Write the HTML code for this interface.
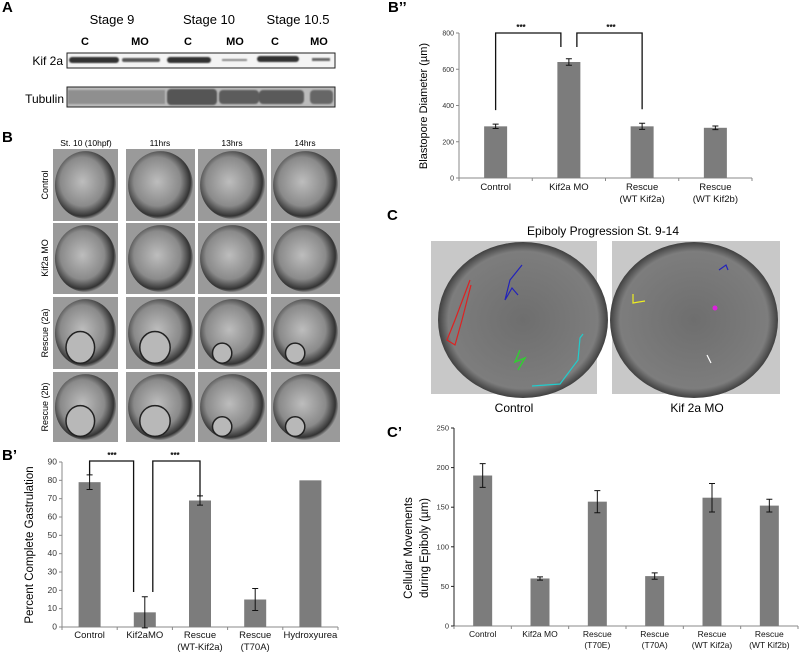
<!DOCTYPE html>
<html><head><meta charset="utf-8"><style>
body{margin:0;background:#fff;}
svg{display:block;font-family:"Liberation Sans",Arial,sans-serif;}
</style></head><body>
<svg id="fig" width="800" height="655" viewBox="0 0 800 655">
<defs>
<radialGradient id="emb" cx="45%" cy="45%" r="60%">
<stop offset="0" stop-color="#bdbdbd"/><stop offset="0.6" stop-color="#8a8a8a"/><stop offset="0.85" stop-color="#333"/><stop offset="1" stop-color="#dcdcdc"/></radialGradient>
<radialGradient id="emb2" cx="50%" cy="50%" r="55%">
<stop offset="0" stop-color="#6e6e6e"/><stop offset="0.8" stop-color="#7d7d7d"/><stop offset="0.92" stop-color="#3a3a3a"/><stop offset="1" stop-color="#cfcfcf"/></radialGradient>
<filter id="blur"><feGaussianBlur stdDeviation="0.8"/></filter>
</defs>

<g>
<text x="2" y="12" font-size="15" font-weight="bold">A</text>
<text x="112" y="24" font-size="13" text-anchor="middle">Stage 9</text>
<text x="209" y="24" font-size="13" text-anchor="middle">Stage 10</text>
<text x="298" y="24" font-size="13" text-anchor="middle">Stage 10.5</text>
<g font-size="11" font-weight="bold" text-anchor="middle">
<text x="85" y="45">C</text>
<text x="140" y="45">MO</text>
<text x="188" y="45">C</text>
<text x="235" y="45">MO</text>
<text x="275" y="45">C</text>
<text x="319" y="45">MO</text>
</g>
<text x="63" y="65" font-size="12" text-anchor="end">Kif 2a</text>
<rect x="67" y="53" width="268" height="15" fill="#f4f4f4" stroke="#222"/>
<g filter="url(#blur)">
<rect x="69" y="57" width="50" height="6" rx="3" fill="#333"/><rect x="122" y="58" width="38" height="4" rx="2" fill="#555"/>
<rect x="167" y="57" width="44" height="6" rx="3" fill="#333"/><rect x="222" y="59" width="25" height="2" fill="#888"/>
<rect x="257" y="56" width="42" height="6" rx="3" fill="#333"/><rect x="312" y="58" width="18" height="3" fill="#666"/>
</g>
<text x="64" y="103" font-size="12" text-anchor="end">Tubulin</text>
<rect x="67" y="87" width="268" height="20" fill="#bbb" stroke="#222"/>
<g filter="url(#blur)">
<rect x="68" y="90" width="97" height="14" fill="#8f8f8f"/><rect x="167" y="89" width="50" height="16" rx="4" fill="#555"/>
<rect x="219" y="90" width="40" height="14" rx="4" fill="#5c5c5c"/><rect x="259" y="90" width="45" height="14" rx="4" fill="#5a5a5a"/><rect x="310" y="90" width="23" height="14" rx="4" fill="#666"/>
</g>
</g>

<g>
<text x="2" y="142" font-size="15" font-weight="bold">B</text>
<g font-size="8.5" text-anchor="middle">
<text x="86" y="146">St. 10 (10hpf)</text>
<text x="160" y="146">11hrs</text>
<text x="232" y="146">13hrs</text>
<text x="305" y="146">14hrs</text>
</g>
<g font-size="9" text-anchor="middle">
<text transform="translate(48,185) rotate(-90)">Control</text>
<text transform="translate(48,258) rotate(-90)">Kif2a MO</text>
<text transform="translate(48,333) rotate(-90)">Rescue (2a)</text>
<text transform="translate(48,407) rotate(-90)">Rescue (2b)</text>
</g>
<g id="grid"></g>
</g>

<g id="bpp">
<text x="388" y="12" font-size="15" font-weight="bold">B’’</text>
<text transform="translate(427,106) rotate(-90)" font-size="11" text-anchor="middle">Blastopore Diameter (µm)</text>
</g>

<g>
<text x="387" y="220" font-size="15" font-weight="bold">C</text>
<text x="603" y="235" font-size="12" text-anchor="middle">Epiboly Progression St. 9-14</text>
<rect x="431" y="241" width="166" height="153" fill="#c8c8c8"/>
<ellipse cx="523" cy="320" rx="85" ry="78" fill="url(#emb2)"/>
<polyline points="470,280 455,320 447,340 455,345 462,320 471,285" fill="none" stroke="#d22" stroke-width="1.2"/>
<polyline points="522,265 510,280 505,300 512,288 518,295" fill="none" stroke="#22b" stroke-width="1.2"/>
<polyline points="520,350 515,362 525,358 518,370" fill="none" stroke="#3c3" stroke-width="1.5"/>
<polyline points="532,386 560,384 578,360 580,338 583,334" fill="none" stroke="#2cc" stroke-width="1.2"/>
<rect x="612" y="241" width="168" height="153" fill="#c8c8c8"/>
<ellipse cx="694" cy="320" rx="84" ry="78" fill="url(#emb2)"/>
<polyline points="633,294 633,303 645,301" fill="none" stroke="#ee2" stroke-width="1.2"/>
<polyline points="719,270 726,265 728,270" fill="none" stroke="#22b" stroke-width="1.2"/>
<circle cx="715" cy="308" r="2.5" fill="#d2d"/>
<polyline points="707,355 711,363" fill="none" stroke="#fff" stroke-width="1.2"/>
<text x="514" y="412" font-size="12" text-anchor="middle">Control</text>
<text x="697" y="412" font-size="12" text-anchor="middle">Kif 2a MO</text>
</g>

<g id="bp">
<text x="2" y="460" font-size="15" font-weight="bold">B’</text>
<text transform="translate(33,545) rotate(-90)" font-size="11.5" text-anchor="middle">Percent Complete Gastrulation</text>
</g>

<g id="cp">
<text x="387" y="437" font-size="15" font-weight="bold">C’</text>
<text x="412" y="548" font-size="11.5" text-anchor="middle" transform="rotate(-90 412 548)">Cellular Movements</text>
<text x="428" y="548" font-size="11.5" text-anchor="middle" transform="rotate(-90 428 548)">during Epiboly (µm)</text>
</g>
</svg>
<script>
const bppCategories = [["Control"],["Kif2a MO"],["Rescue","(WT Kif2a)"],["Rescue","(WT Kif2b)"]];
const bppValues = [285, 640, 285, 277];
const bppErrors = [12, 18, 17, 10];
const bppTicks = [0, 200, 400, 600, 800];
const bpCategories = [["Control"],["Kif2aMO"],["Rescue","(WT-Kif2a)"],["Rescue","(T70A)"],["Hydroxyurea"]];
const bpValues = [79, 8, 69, 15, 80];
const bpErrors = [4, 8.5, 2.5, 6, 0];
const bpTicks = [0,10,20,30,40,50,60,70,80,90];
const cpCategories = [["Control"],["Kif2a MO"],["Rescue","(T70E)"],["Rescue","(T70A)"],["Rescue","(WT Kif2a)"],["Rescue","(WT Kif2b)"]];
const cpValues = [190, 60, 157, 63, 162, 152];
const cpErrors = [15, 2, 14, 4, 18, 8];
const cpTicks = [0, 50, 100, 150, 200, 250];

const NS = "http://www.w3.org/2000/svg";
function mk(parent, tag, attrs){const e=document.createElementNS(NS,tag);for(const k in attrs)e.setAttribute(k,attrs[k]);parent.appendChild(e);return e;}

function chart(g, o){
  const y = v => o.y0 - v / o.vmax * (o.y0 - o.yTop);
  const n = o.cats.length, cw = (o.x1 - o.x0) / n;
  const x = i => o.x0 + cw * (i + 0.5);
  const ax = mk(g,'line',{x1:o.x0,y1:o.y0,x2:o.x1,y2:o.y0,stroke:'#888','stroke-width':1});
  
  
  const ay = mk(g,'line',{x1:o.x0,y1:y(o.ticks[o.ticks.length-1]),x2:o.x0,y2:o.y0,stroke:o.axCol||'#888','stroke-width':1});
  
  
  o.ticks.forEach(t=>{
    mk(g,'line',{x1:o.x0-3,y1:y(t),x2:o.x0,y2:y(t),stroke:o.axCol||'#888'});
    const tx = mk(g,'text',{x:o.x0-5,y:y(t)+2.5,'font-size':o.tfs||7,'text-anchor':'end',fill:'#333'});
    tx.textContent=t;
    
    
  });
  for(let i=0;i<=n;i++) mk(g,'line',{x1:o.x0+cw*i,y1:o.y0,x2:o.x0+cw*i,y2:o.y0+3,stroke:'#888'});
  o.cats.forEach((c,i)=>{
    const v=o.vals[i], e=o.errs[i];
    const b = mk(g,'rect',{x:x(i)-o.bw/2,y:y(v),width:o.bw,height:o.y0-y(v),fill:'#7c7c7c'});
    
    
    if(e>0){
      const eb = mk(g,'path',{d:`M${x(i)-3},${y(v+e)}h6M${x(i)},${y(v+e)}V${y(v-e)}M${x(i)-3},${y(v-e)}h6`,stroke:'#111','stroke-width':1,fill:'none'});
      
      
    }
    c.forEach((line,j)=>{
      const t = mk(g,'text',{x:x(i),y:o.y0+o.lab+j*o.lh,'font-size':o.lfs,'text-anchor':'middle',fill:'#111'});
      t.textContent=line;
      
      
    });
  });
  return {x,y};
}
function bracket(g, xa, ya, xb, yb, top, sx){
  const p = mk(g,'path',{d:`M${xa},${ya}V${top}H${xb}V${yb}`,stroke:'#111','stroke-width':1.3,fill:'none'});
  
  
  const t = mk(g,'text',{x:sx,y:top-3,'font-size':8,'text-anchor':'middle','font-weight':'bold'});
  t.textContent='***';
  
  
}

const gbpp=document.getElementById('bpp');
const s1=chart(gbpp,{cats:bppCategories,vals:bppValues,errs:bppErrors,ticks:bppTicks,vmax:800,x0:459,x1:752,y0:178,yTop:33,bw:23,lab:12,lh:12,lfs:9.5,tfs:7});
bracket(gbpp,s1.x(0),s1.y(bppValues[0]+bppErrors[0])-14,s1.x(1)-8,47,33,521);
bracket(gbpp,s1.x(1)+8,47,s1.x(2),s1.y(bppValues[2]+bppErrors[2])-14,33,611);

const gbp=document.getElementById('bp');
const s2=chart(gbp,{cats:bpCategories,vals:bpValues,errs:bpErrors,ticks:bpTicks,vmax:90,x0:62,x1:338,y0:627,yTop:462,bw:22,lab:11,lh:12,lfs:9.5,tfs:8.5});
bracket(gbp,s2.x(0),s2.y(bpValues[0]+bpErrors[0]),s2.x(0)+44,592,461,112);
bracket(gbp,s2.x(1)+8,592,s2.x(2),s2.y(bpValues[2]+bpErrors[2])+1,461,175);

const gcp=document.getElementById('cp');
chart(gcp,{cats:cpCategories,vals:cpValues,errs:cpErrors,ticks:cpTicks,vmax:250,x0:454,x1:798,y0:626,yTop:428,bw:19,lab:11,lh:11,lfs:8.5,tfs:7.5,axCol:'#222'});

const grid=document.getElementById('grid');
const cols=[[53,118],[126,195],[198,267],[271,340]];
const rows=[[149,221],[223,294],[297,369],[372,442]];
const rowNames=['control','kif2a-mo','rescue-2a','rescue-2b'];
rows.forEach((r,ri)=>cols.forEach((c,ci)=>{
  const w=c[1]-c[0], h=r[1]-r[0];
  const bg=mk(grid,'rect',{x:c[0],y:r[0],width:w,height:h,fill:'#9a9a9a'});
  
  
  mk(grid,'ellipse',{cx:c[0]+w/2,cy:r[0]+h/2,rx:w*0.47,ry:h*0.47,fill:'url(#emb)'});
  if(ri>=2) mk(grid,'ellipse',{cx:c[0]+w*(ci<2?0.42:0.35),cy:r[0]+h*(ci<2?0.7:0.78),rx:w*(ci<2?0.22:0.14),ry:h*(ci<2?0.22:0.14),fill:'#b8b8b8',stroke:'#222','stroke-width':1.5});
}));
</script>
</body></html>
